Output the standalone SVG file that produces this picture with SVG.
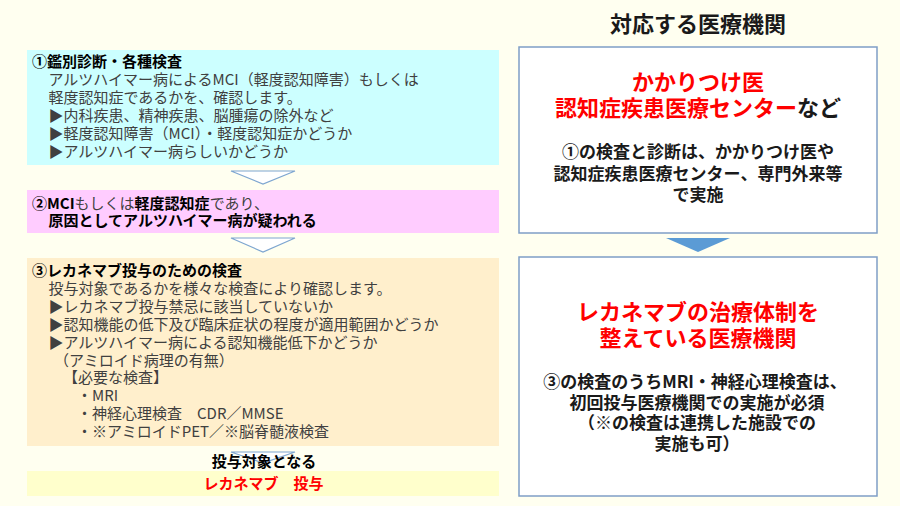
<svg xmlns="http://www.w3.org/2000/svg" width="900" height="506" viewBox="0 0 900 506">
<style>
text{font-family:"Noto Sans CJK JP","Noto Sans",sans-serif;}
.h{font-size:15px;font-weight:bold;fill:#000;}
.b{font-size:15px;fill:#404040;}
.bb{font-weight:bold;fill:#000;}
.rt{font-size:22px;font-weight:bold;fill:#ff0000;text-anchor:middle;}
.rb{font-size:17px;font-weight:bold;fill:#1a1a1a;text-anchor:middle;}
.box{stroke:#7f9ec6;stroke-width:1.5;fill:#ffffff;}
.tri{fill:#ffffff;stroke:#7ea6d0;stroke-width:1.2;}
</style>
<rect width="900" height="506" fill="#fffff0"/>
<g id="connectors">
<polygon class="tri" points="231,171 295,171 263,184"/>
<polygon class="tri" points="231,238 295,238 263,252"/>
<polygon class="tri" points="231,452 295,452 263,463"/>
<polygon points="666,238 730,238 698,252" fill="#5b9bd5"/>
</g>
<g id="title">
<text x="698" y="31.5" font-size="22" font-weight="bold" fill="#1a1a1a" text-anchor="middle">対応する医療機関</text>
</g>
<g id="step1">
<rect x="27" y="50" width="472" height="115" fill="#ccffff"/>
<text class="b" x="32" y="67"><tspan class="bb">①鑑別診断・各種検査</tspan><tspan x="48.5" y="85">アルツハイマー病によるMCI（軽度認知障害）もしくは</tspan><tspan x="48.5" y="103">軽度認知症であるかを、確認します。</tspan><tspan x="48.5" y="121">▶内科疾患、精神疾患、脳腫瘍の除外など</tspan><tspan x="48.5" y="139">▶軽度認知障害（MCI）・軽度認知症かどうか</tspan><tspan x="48.5" y="157">▶アルツハイマー病らしいかどうか</tspan></text>
</g>
<g id="step2">
<rect x="27" y="190" width="472" height="43" fill="#ffccff"/>
<text class="b" x="32" y="209"><tspan class="bb">②MCI</tspan>もしくは<tspan class="bb">軽度認知症</tspan>であり、<tspan class="bb" x="48.5" y="226">原因としてアルツハイマー病が疑われる</tspan></text>
</g>
<g id="step3">
<rect x="27" y="258" width="472" height="188" fill="#ffefcc"/>
<text class="b" x="32" y="276"><tspan class="bb">③レカネマブ投与のための検査</tspan><tspan x="48.5" y="294">投与対象であるかを様々な検査により確認します。</tspan><tspan x="48.5" y="312">▶レカネマブ投与禁忌に該当していないか</tspan><tspan x="48.5" y="329.7">▶認知機能の低下及び臨床症状の程度が適用範囲かどうか</tspan><tspan x="48.5" y="347.6">▶アルツハイマー病による認知機能低下かどうか</tspan><tspan x="54" y="365.5">（アミロイド病理の有無）</tspan><tspan x="63" y="383.4">【必要な検査】</tspan><tspan x="77" y="401.3">・MRI</tspan><tspan x="77" y="419.2">・神経心理検査　CDR／MMSE</tspan><tspan x="77" y="437.1">・※アミロイドPET／※脳脊髄液検査</tspan></text>
</g>
<g id="target-label">
<text class="h" x="264" y="467" text-anchor="middle">投与対象となる</text>
</g>
<g id="administer">
<rect x="27" y="471" width="472" height="25" fill="#ffffcc"/>
<text class="h" x="263.5" y="489" text-anchor="middle" style="fill:#ff0000">レカネマブ　投与</text>
</g>
<g id="facility1">
<rect class="box" x="519" y="47" width="358" height="186"/>
<text class="rt" x="698" y="90">かかりつけ医<tspan x="698" y="116">認知症疾患医療センター</tspan><tspan fill="#1a1a1a">など</tspan></text>
<text class="rb" x="698" y="158">①の検査と診断は、かかりつけ医や<tspan x="698" y="180">認知症疾患医療センター、専門外来等</tspan><tspan x="698" y="200.5">で実施</tspan></text>
</g>
<g id="facility2">
<rect class="box" x="519" y="257" width="358" height="239"/>
<text class="rt" x="698" y="320">レカネマブの治療体制を<tspan x="698" y="346">整えている医療機関</tspan></text>
<text class="rb" x="695" y="388">③の検査のうちMRI・神経心理検査は、<tspan x="697" y="409">初回投与医療機関での実施が必須</tspan><tspan x="697" y="429">（※の検査は連携した施設での</tspan><tspan x="697" y="449.5">実施も可）</tspan></text>
</g>
</svg>
